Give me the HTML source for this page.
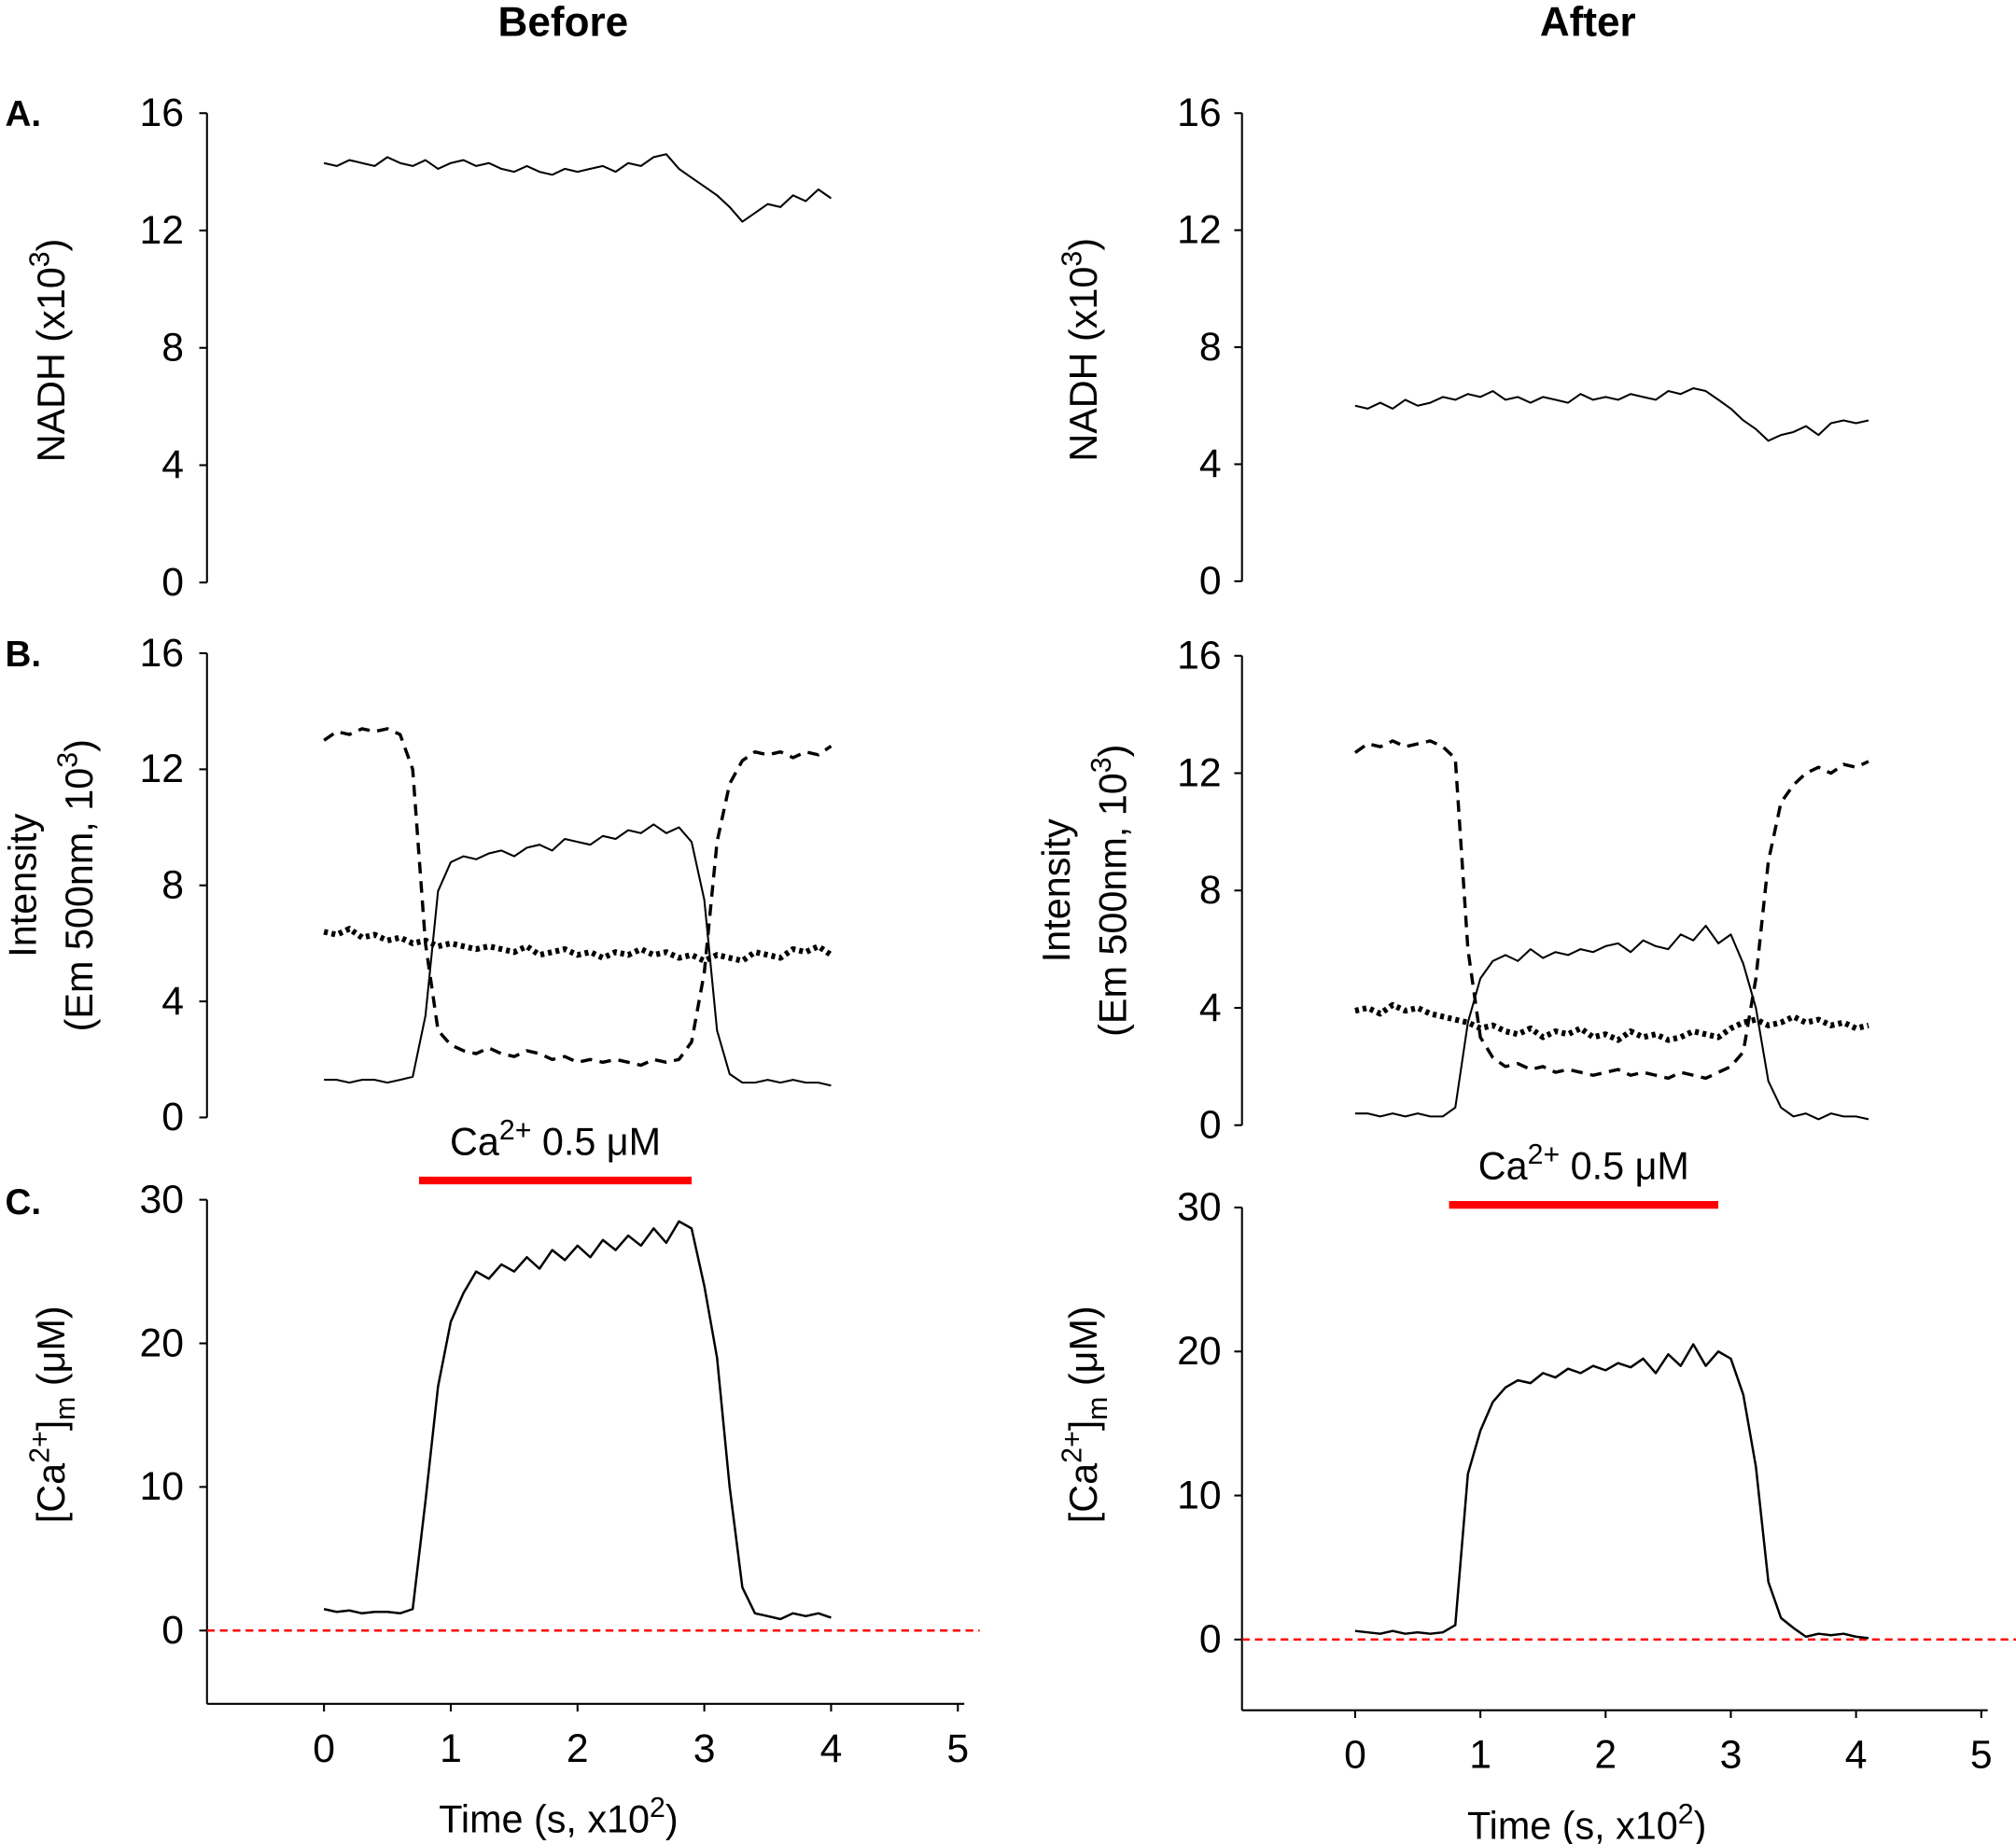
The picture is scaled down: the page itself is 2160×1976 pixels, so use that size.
<!DOCTYPE html>
<html><head><meta charset="utf-8">
<style>
html,body{margin:0;padding:0;background:#fff;}
svg{display:block;font-family:"Liberation Sans",Arial,sans-serif;}
</style></head>
<body>
<svg id="fig" width="2160" height="1976" viewBox="0 0 1568 1434" preserveAspectRatio="none" xmlns="http://www.w3.org/2000/svg">
<text x="438" y="28" font-size="32" font-weight="bold" text-anchor="middle">Before</text>
<text x="1235" y="28" font-size="32" font-weight="bold" text-anchor="middle">After</text>
<text x="4" y="98" font-size="28" font-weight="bold">A.</text>
<text x="4" y="518" font-size="28" font-weight="bold">B.</text>
<text x="4" y="944" font-size="28" font-weight="bold">C.</text>
<g id="plots"></g>
</svg>
<script>
const timeStep = 0.1;
const yTicksAB = [0,4,8,12,16];
const yTicksC = [0,10,20,30];
const xTicks = [0,1,2,3,4,5];
const leftNADH = [14.3,14.2,14.4,14.3,14.2,14.5,14.3,14.2,14.4,14.1,14.3,14.4,14.2,14.3,14.1,14.0,14.2,14.0,13.9,14.1,14.0,14.1,14.2,14.0,14.3,14.2,14.5,14.6,14.1,13.8,13.5,13.2,12.8,12.3,12.6,12.9,12.8,13.2,13.0,13.4,13.1];
const rightNADH = [6.0,5.9,6.1,5.9,6.2,6.0,6.1,6.3,6.2,6.4,6.3,6.5,6.2,6.3,6.1,6.3,6.2,6.1,6.4,6.2,6.3,6.2,6.4,6.3,6.2,6.5,6.4,6.6,6.5,6.2,5.9,5.5,5.2,4.8,5.0,5.1,5.3,5.0,5.4,5.5,5.4,5.5];
const leftBSolid = [1.3,1.3,1.2,1.3,1.3,1.2,1.3,1.4,3.5,7.8,8.8,9.0,8.9,9.1,9.2,9.0,9.3,9.4,9.2,9.6,9.5,9.4,9.7,9.6,9.9,9.8,10.1,9.8,10.0,9.5,7.5,3.0,1.5,1.2,1.2,1.3,1.2,1.3,1.2,1.2,1.1];
const leftBDashed = [13.0,13.3,13.2,13.4,13.3,13.4,13.2,12.0,6.0,3.0,2.5,2.3,2.2,2.4,2.2,2.1,2.3,2.2,2.0,2.1,1.9,2.0,1.9,2.0,1.9,1.8,2.0,1.9,2.0,2.6,5.0,9.5,11.5,12.3,12.6,12.5,12.6,12.4,12.6,12.5,12.8];
const leftBDotted = [6.4,6.3,6.5,6.2,6.3,6.1,6.2,6.0,6.1,5.9,6.0,5.9,5.8,5.9,5.8,5.7,5.9,5.6,5.7,5.8,5.6,5.7,5.5,5.7,5.6,5.8,5.6,5.7,5.5,5.6,5.4,5.6,5.5,5.4,5.7,5.6,5.5,5.8,5.7,5.9,5.6];
const rightBSolid = [0.4,0.4,0.3,0.4,0.3,0.4,0.3,0.3,0.6,3.5,5.0,5.6,5.8,5.6,6.0,5.7,5.9,5.8,6.0,5.9,6.1,6.2,5.9,6.3,6.1,6.0,6.5,6.3,6.8,6.2,6.5,5.5,4.0,1.5,0.6,0.3,0.4,0.2,0.4,0.3,0.3,0.2];
const rightBDashed = [12.7,13.0,12.9,13.1,12.9,13.0,13.1,12.9,12.5,6.0,3.0,2.3,2.0,2.1,1.9,2.0,1.8,1.9,1.8,1.7,1.8,1.9,1.7,1.8,1.7,1.6,1.8,1.7,1.6,1.8,2.0,2.5,5.0,9.0,11.0,11.6,12.0,12.2,12.0,12.3,12.2,12.4];
const rightBDotted = [3.9,4.0,3.8,4.1,3.9,4.0,3.8,3.7,3.6,3.5,3.3,3.4,3.2,3.1,3.3,3.0,3.2,3.1,3.3,3.0,3.1,2.9,3.2,3.0,3.1,2.9,3.0,3.2,3.1,3.0,3.3,3.5,3.6,3.4,3.5,3.7,3.5,3.6,3.4,3.5,3.3,3.4];
const leftCa = [1.5,1.3,1.4,1.2,1.3,1.3,1.2,1.5,9.0,17.0,21.5,23.5,25.0,24.5,25.5,25.0,26.0,25.2,26.5,25.8,26.8,26.0,27.2,26.5,27.5,26.8,28.0,27.0,28.5,28.0,24.0,19.0,10.0,3.0,1.2,1.0,0.8,1.2,1.0,1.2,0.9];
const rightCa = [0.6,0.5,0.4,0.6,0.4,0.5,0.4,0.5,1.0,11.5,14.5,16.5,17.5,18.0,17.8,18.5,18.2,18.8,18.5,19.0,18.7,19.2,18.9,19.5,18.5,19.8,19.0,20.5,19.0,20.0,19.5,17.0,12.0,4.0,1.5,0.8,0.2,0.4,0.3,0.4,0.2,0.1];
const caBar = [0.75, 2.9];

const NS = "http://www.w3.org/2000/svg";
const root = document.getElementById('plots');
function mk(tag, attrs, parent){const e=document.createElementNS(NS,tag);for(const k in attrs)e.setAttribute(k,attrs[k]);(parent||root).appendChild(e);return e;}

const cols = [
 {side:'left', ax:161, x0:252, xu:98.6, A:[88,453], B:[508,869], C:[933,1268,1325], labX:40, labB1:18, labB2:62, tickLX:143, red:[161,762], barY:918, barTextY:898,
  nadh:leftNADH, bs:leftBSolid, bd:leftBDashed, bo:leftBDotted, ca:leftCa},
 {side:'right', ax:966, x0:1054, xu:97.4, A:[88,452], B:[510,875], C:[939,1275,1330], labX:843, labB1:822, labB2:866, tickLX:950, red:[966,1568], barY:937, barTextY:917,
  nadh:rightNADH, bs:rightBSolid, bd:rightBDashed, bo:rightBDotted, ca:rightCa}
];

function yAxis(c, top, bot, ticks, vmax, vmin, name, axBottom){
  const g = mk('g',{});
  
  
  const y = v => bot - (v - 0) / (vmax) * (bot - top);
  mk('line',{x1:c.ax,y1:top,x2:c.ax,y2:axBottom||bot,stroke:'#000','stroke-width':1.5},g);
  ticks.forEach(t=>{
    mk('line',{x1:c.ax-6,y1:y(t),x2:c.ax,y2:y(t),stroke:'#000','stroke-width':1.5},g);
    const tx = mk('text',{x:c.tickLX,y:y(t)+10,'font-size':31,'text-anchor':'end'},g);
    tx.textContent = t;
  });
  return y;
}
function series(c, vals, y, name, dash, width){
  const pts = vals.map((v,i)=>(c.x0 + i*timeStep*c.xu).toFixed(1)+','+y(v).toFixed(1)).join(' ');
  const p = mk('polyline',{points:pts,fill:'none',stroke:'#000','stroke-width':width||1.5,'stroke-dasharray':dash||'none','stroke-linejoin':'round'});
  
  
}
function rotLabel(x, yc, html, name){
  const t = mk('text',{x:0,y:0,'font-size':30,'text-anchor':'middle',transform:`translate(${x},${yc}) rotate(-90)`});
  t.innerHTML = html;
  
  
}

cols.forEach(c=>{
  const yA = yAxis(c, c.A[0], c.A[1], yTicksAB, 16, 0, 'nadh');
  series(c, c.nadh, yA, 'nadh-line');
  rotLabel(c.labX+10, (c.A[0]+c.A[1])/2+2, 'NADH (x10<tspan font-size="22" dy="-12">3</tspan><tspan dy="12">)</tspan>', c.side+'-nadh-y-title');
  const yB = yAxis(c, c.B[0], c.B[1], yTicksAB, 16, 0, 'intensity');
  series(c, c.bd, yB, 'intensity-dashed', '9,6', 2.5);
  series(c, c.bo, yB, 'intensity-dotted', '3,3', 4.5);
  series(c, c.bs, yB, 'intensity-solid');
  rotLabel(c.labB1+10, (c.B[0]+c.B[1])/2, 'Intensity', c.side+'-intensity-y-title-1');
  rotLabel(c.labB2+10, (c.B[0]+c.B[1])/2, '(Em 500nm, 10<tspan font-size="22" dy="-12">3</tspan><tspan dy="12">)</tspan>', c.side+'-intensity-y-title-2');
  const yC = yAxis(c, c.C[0], c.C[1], yTicksC, 30, 0, 'calcium', c.C[2]);
  const rl = mk('line',{x1:c.red[0],y1:yC(0),x2:c.red[1],y2:yC(0),stroke:'#f00','stroke-width':1.8,'stroke-dasharray':'6,4'});
  
  
  series(c, c.ca, yC, 'calcium-line', null, 1.8);
  rotLabel(c.labX+10, 1100, '[Ca<tspan font-size="22" dy="-12">2+</tspan><tspan dy="12">]</tspan><tspan font-size="22" dy="8">m</tspan><tspan dy="-8"> (μM)</tspan>', c.side+'-calcium-y-title');
  const gx = mk('g',{});
  
  
  mk('line',{x1:c.ax,y1:c.C[2],x2:c.x0+5*c.xu+5,y2:c.C[2],stroke:'#000','stroke-width':1.5},gx);
  xTicks.forEach(t=>{
    const x = c.x0 + t*c.xu;
    mk('line',{x1:x,y1:c.C[2],x2:x,y2:c.C[2]+6,stroke:'#000','stroke-width':1.5},gx);
    const tx = mk('text',{x:x,y:c.C[2]+45,'font-size':31,'text-anchor':'middle'},gx);
    tx.textContent = t;
  });
  const xt = mk('text',{x:c.x0+1.85*c.xu,y:c.C[2]+100,'font-size':30,'text-anchor':'middle'});
  xt.innerHTML = 'Time (s, x10<tspan font-size="22" dy="-12">2</tspan><tspan dy="12">)</tspan>';
  
  
  const bx1 = c.x0 + caBar[0]*c.xu, bx2 = c.x0 + caBar[1]*c.xu;
  const bar = mk('line',{x1:bx1,y1:c.barY,x2:bx2,y2:c.barY,stroke:'#f00','stroke-width':6});
  
  
  const bt = mk('text',{x:(bx1+bx2)/2,y:c.barTextY,'font-size':30,'text-anchor':'middle'});
  bt.innerHTML = 'Ca<tspan font-size="22" dy="-12">2+</tspan><tspan dy="12"> 0.5 μM</tspan>';
  
  
});
</script>
</body></html>
